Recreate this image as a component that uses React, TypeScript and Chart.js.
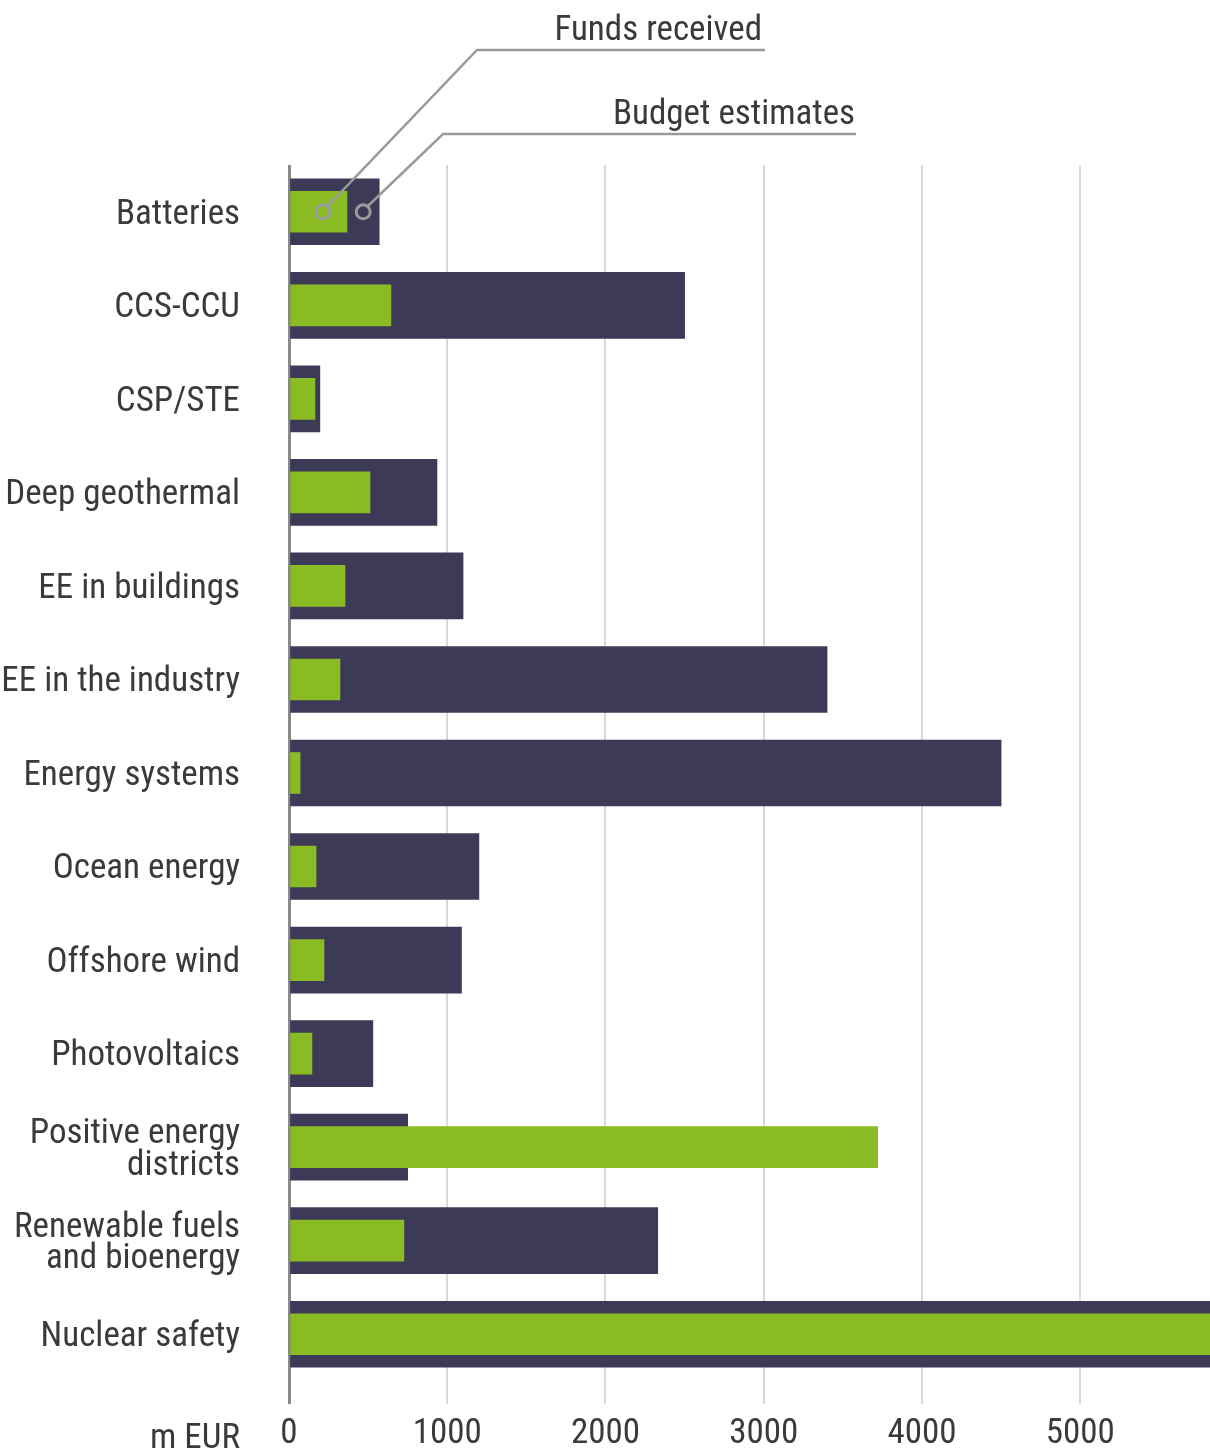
import React, { useEffect, useRef } from "react";
import { Chart, registerables } from "chart.js";

Chart.register(...registerables);

const categories: (string | string[])[] = [
  "Batteries",
  "CCS-CCU",
  "CSP/STE",
  "Deep geothermal",
  "EE in buildings",
  "EE in the industry",
  "Energy systems",
  "Ocean energy",
  "Offshore wind",
  "Photovoltaics",
  ["Positive energy", "districts"],
  ["Renewable fuels", "and bioenergy"],
  "Nuclear safety",
];

const budgetEstimates = [570, 2500, 195, 935, 1100, 3400, 4500, 1200, 1090, 530, 750, 2330, 6200];
const fundsReceived = [366, 644, 164, 512, 354, 322, 70, 171, 221, 145, 3720, 726, 6000];

const xTicks = [0, 1000, 2000, 3000, 4000, 5000];
const xMax = 5820;
const unitLabel = "m EUR";
const fundsLabel = "Funds received";
const budgetLabel = "Budget estimates";

const FONT = '"Roboto Condensed", "DejaVu Sans Condensed", sans-serif';
const TEXT = "#3a3a3a";
const DARK = "#3c3a56";
const GREEN = "#8bbb24";

const annotationPlugin = {
  id: "annotations",
  afterDraw(chart: any) {
    const ctx = chart.ctx as CanvasRenderingContext2D;
    const x = chart.scales.x;
    const y = chart.scales.y;
    ctx.save();
    ctx.fillStyle = TEXT;
    ctx.font = `35px ${FONT}`;
    ctx.textAlign = "right";
    ctx.textBaseline = "alphabetic";
    ctx.fillText(unitLabel, 240, 1448);

    ctx.fillText(fundsLabel, 762, 40);
    ctx.fillText(budgetLabel, 855, 124);

    const cy = y.getPixelForValue(0);
    const fx = x.getPixelForValue(fundsReceived[0]) - 24;
    const bx = x.getPixelForValue(budgetEstimates[0]) - 16;
    ctx.strokeStyle = "#9a9a9a";
    ctx.lineWidth = 2.5;
    ctx.beginPath();
    ctx.moveTo(765, 50);
    ctx.lineTo(477, 50);
    ctx.lineTo(fx + 5, cy - 6);
    ctx.stroke();
    ctx.beginPath();
    ctx.moveTo(856, 134);
    ctx.lineTo(443, 134);
    ctx.lineTo(bx + 5, cy - 6);
    ctx.stroke();
    ctx.lineWidth = 3;
    ctx.beginPath();
    ctx.arc(fx, cy, 7, 0, Math.PI * 2);
    ctx.stroke();
    ctx.beginPath();
    ctx.arc(bx, cy, 7, 0, Math.PI * 2);
    ctx.stroke();
    ctx.restore();
  },
};

export default function App() {
  const ref = useRef<HTMLCanvasElement>(null);
  useEffect(() => {
    if (!ref.current) return;
    const chart = new Chart(ref.current, {
      type: "bar",
      data: {
        labels: categories as any,
        datasets: [
          {
            label: fundsLabel,
            data: fundsReceived,
            backgroundColor: GREEN,
            barThickness: 41,
            grouped: false,
            order: 0,
          },
          {
            label: budgetLabel,
            data: budgetEstimates,
            backgroundColor: DARK,
            barThickness: 66,
            grouped: false,
            order: 1,
          },
        ],
      },
      options: {
        indexAxis: "y",
        animation: false,
        responsive: false,
        devicePixelRatio: 1,
        layout: { padding: { top: 165, left: 0, right: 0, bottom: 0 } },
        plugins: { legend: { display: false }, tooltip: { enabled: false } },
        scales: {
          x: {
            min: 0,
            max: xMax,
            afterBuildTicks(scale: any) {
              scale.ticks = xTicks.map((v) => ({ value: v }));
            },
            afterFit(scale: any) {
              scale.height = 73;
            },
            border: { display: false },
            grid: {
              color: (c: any) => (c.tick && c.tick.value === 0 ? "#8a8a8a" : "#d9d9d9"),
              lineWidth: (c: any) => (c.tick && c.tick.value === 0 ? 3 : 2),
              tickLength: 23,
              drawTicks: true,
            },
            ticks: {
              padding: 9,
              color: TEXT,
              font: { family: FONT, size: 35 },
              maxRotation: 0,
              callback: (v: any) => String(v),
            },
          },
          y: {
            afterFit(scale: any) {
              scale.width = 289;
            },
            border: { display: false },
            grid: { display: false, drawTicks: false },
            ticks: {
              padding: 49,
              labelOffset: 3,
              color: TEXT,
              font: { family: FONT, size: 35, lineHeight: 0.9 },
            },
          },
        },
      },
      plugins: [annotationPlugin],
    });
    return () => chart.destroy();
  }, []);
  return (
    <div style={{ position: "absolute", left: 0, top: 0, width: 1210, height: 1454, background: "#fff" }}>
      <canvas ref={ref} width={1210} height={1454} />
    </div>
  );
}
